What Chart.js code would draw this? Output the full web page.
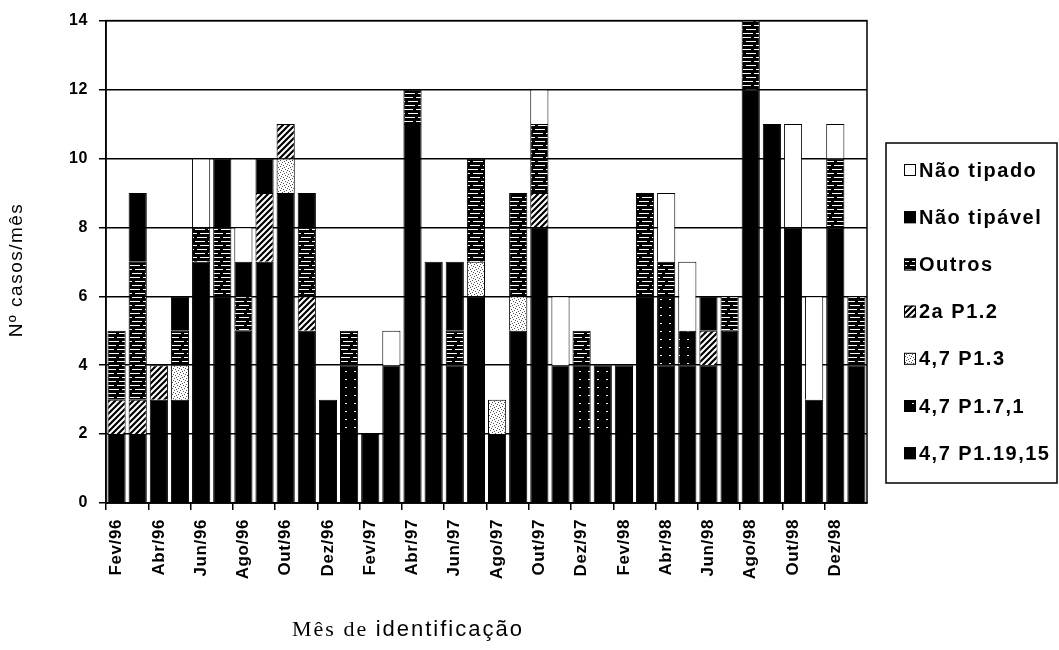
<!DOCTYPE html>
<html>
<head>
<meta charset="utf-8">
<script src="https://cdn.jsdelivr.net/npm/chart.js@4"></script>
<style>
  html, body { margin: 0; padding: 0; background: #fff; }
</style>
</head>
<body>
<canvas id="chart" width="1059" height="650"></canvas>
<script>
// Months (one bar each), only every second one gets a label
const months = [
  'Fev/96', 'Mar/96', 'Abr/96', 'Mai/96', 'Jun/96', 'Jul/96', 'Ago/96', 'Set/96', 'Out/96', 'Nov/96', 'Dez/96', 'Jan/97',
  'Fev/97', 'Mar/97', 'Abr/97', 'Mai/97', 'Jun/97', 'Jul/97', 'Ago/97', 'Set/97', 'Out/97', 'Nov/97', 'Dez/97', 'Jan/98',
  'Fev/98', 'Mar/98', 'Abr/98', 'Mai/98', 'Jun/98', 'Jul/98', 'Ago/98', 'Set/98', 'Out/98', 'Nov/98', 'Dez/98', 'Jan/99'
];

// Cases per month, by serotype (bottom of the stack first)
const p1_19_15  = [2, 2, 3, 3, 7, 6, 5, 7, 9, 5, 3, 2,  2, 4, 11, 7, 4, 6, 2, 5, 8, 4, 2, 2,  4, 6, 4, 4, 4, 5, 12, 11, 8, 3, 8, 4];
const p1_7_1    = [0, 0, 0, 0, 0, 0, 0, 0, 0, 0, 0, 2,  0, 0, 0, 0, 0, 0, 0, 0, 0, 0, 2, 2,  0, 0, 2, 1, 0, 0, 0, 0, 0, 0, 0, 0];
const p1_3      = [0, 0, 0, 1, 0, 0, 0, 0, 1, 0, 0, 0,  0, 0, 0, 0, 0, 1, 1, 1, 0, 0, 0, 0,  0, 0, 0, 0, 0, 0, 0, 0, 0, 0, 0, 0];
const p1_2      = [1, 1, 1, 0, 0, 0, 0, 2, 1, 1, 0, 0,  0, 0, 0, 0, 0, 0, 0, 0, 1, 0, 0, 0,  0, 0, 0, 0, 1, 0, 0, 0, 0, 0, 0, 0];
const outros    = [2, 4, 0, 1, 1, 2, 1, 0, 0, 2, 0, 1,  0, 0, 1, 0, 1, 3, 0, 3, 2, 0, 1, 0,  0, 3, 1, 0, 0, 1, 2, 0, 0, 0, 2, 2];
const naoTipavel = [0, 2, 0, 1, 0, 2, 1, 1, 0, 1, 0, 0,  0, 0, 0, 0, 2, 0, 0, 0, 0, 0, 0, 0,  0, 0, 0, 0, 1, 0, 0, 0, 0, 0, 0, 0];
const naoTipado  = [0, 0, 0, 0, 2, 0, 1, 0, 0, 0, 0, 0,  0, 1, 0, 0, 0, 0, 0, 0, 1, 2, 0, 0,  0, 0, 2, 2, 0, 0, 0, 0, 3, 3, 1, 0];

const seriesNames = ['4,7 P1.19,15', '4,7 P1.7,1', '4,7 P1.3', '2a P1.2', 'Outros', 'Não tipável', 'Não tipado'];
const yTicks = [0, 2, 4, 6, 8, 10, 12, 14];

const SANS = "'Liberation Sans', Arial, sans-serif";
const SERIF = "'Liberation Serif', 'Times New Roman', serif";
const canvas = document.getElementById('chart');
const ctx = canvas.getContext('2d');

// small black & white fill patterns, like the printed original
function makePattern(w, h, paint) {
  const c = document.createElement('canvas');
  c.width = w; c.height = h;
  const g = c.getContext('2d');
  paint(g);
  return ctx.createPattern(c, 'repeat');
}
const hatch = makePattern(6, 6, g => {
  g.fillStyle = '#fff'; g.fillRect(0, 0, 6, 6);
  g.strokeStyle = '#000'; g.lineWidth = 2.2;
  g.beginPath();
  g.moveTo(-1, 7); g.lineTo(7, -1);
  g.moveTo(-4, 4); g.lineTo(4, -4);
  g.moveTo(2, 10); g.lineTo(10, 2);
  g.stroke();
});
// horizontal dashes, staggered so the breaks do not line up
const lines = makePattern(13, 12, g => {
  g.fillStyle = '#000'; g.fillRect(0, 0, 13, 12);
  g.fillStyle = '#fff';
  g.fillRect(0, 1, 10, 1);
  g.fillRect(5, 5, 13, 1); g.fillRect(0, 5, 2, 1);
  g.fillRect(2, 9, 10, 1);
});
const speckle = makePattern(6, 6, g => {
  g.fillStyle = '#fff'; g.fillRect(0, 0, 6, 6);
  g.fillStyle = '#555';
  [[0, 0], [3, 1], [1, 3], [4, 4], [5, 2], [2, 5]].forEach(p => g.fillRect(p[0], p[1], 1, 1));
});
const darkDots = makePattern(9, 8, g => {
  g.fillStyle = '#000'; g.fillRect(0, 0, 9, 8);
  g.fillStyle = '#fff'; g.fillRect(3, 3, 2, 1);
});

const seriesData = [p1_19_15, p1_7_1, p1_3, p1_2, outros, naoTipavel, naoTipado];
const fills = ['#000', darkDots, speckle, hatch, lines, '#000', '#fff'];

const datasets = seriesNames.map((name, i) => ({
  label: name,
  data: seriesData[i].map(v => v || null),
  backgroundColor: fills[i],
  borderColor: '#000',
  borderWidth: 1,
  barPercentage: 0.86,
  categoryPercentage: 1.0
}));

// scanned text looks wide, so space the letters a bit
function spacing(chart) { chart.ctx.letterSpacing = '0.6px'; }

const extras = {
  id: 'extras',
  beforeUpdate: spacing,
  beforeDraw: spacing,
  afterDatasetsDraw(chart) {
    const a = chart.chartArea;
    const c = chart.ctx;
    c.save();
    c.strokeStyle = '#000';
    c.lineWidth = 1.5;
    c.strokeRect(a.left, a.top, a.right - a.left, a.bottom - a.top);
    c.restore();
  },
  afterDraw(chart) {
    const c = chart.ctx;
    c.save();
    c.fillStyle = '#000';

    // y title
    c.save();
    c.letterSpacing = '1.5px';
    c.translate(17, 270);
    c.rotate(-Math.PI / 2);
    c.font = '19px ' + SANS;
    c.textAlign = 'center';
    c.textBaseline = 'middle';
    c.fillText('Nº casos/mês', 0, 0);
    c.restore();

    // x title, serif and sans mixed as in the scan
    c.letterSpacing = '2px';
    c.textBaseline = 'alphabetic';
    c.textAlign = 'left';
    c.font = '22px ' + SERIF;
    const first = 'Mês de ';
    c.fillText(first, 292, 636);
    const w = c.measureText(first).width;
    c.font = '22px ' + SANS;
    c.fillText('identificação', 292 + w, 636);

    // legend box, last series on top
    c.letterSpacing = '1.5px';
    c.lineWidth = 1.5;
    c.strokeStyle = '#000';
    c.strokeRect(886, 143, 171, 340);
    c.font = 'bold 20px ' + SANS;
    c.textBaseline = 'middle';
    const ds = chart.data.datasets;
    for (let k = 0; k < ds.length; k++) {
      const d = ds[ds.length - 1 - k];
      const cy = 170 + k * 47.2;
      c.fillStyle = d.backgroundColor;
      c.fillRect(904, cy - 6, 12, 12);
      c.lineWidth = 1;
      c.strokeRect(904.5, cy - 5.5, 11, 11);
      c.fillStyle = '#000';
      c.fillText(d.label, 919, cy + 1);
    }
    c.restore();
  }
};

Chart.defaults.font.family = SANS;
Chart.defaults.color = '#000';

new Chart(ctx, {
  type: 'bar',
  data: { labels: months, datasets: datasets },
  plugins: [extras],
  options: {
    responsive: false,
    animation: false,
    layout: { padding: { left: 0, right: 192, top: 13, bottom: 0 } },
    plugins: { legend: { display: false }, tooltip: { enabled: false } },
    scales: {
      x: {
        stacked: true,
        offset: true,
        afterFit: s => { s.height = 147; },
        grid: {
          offset: true,
          drawOnChartArea: false,
          tickLength: 7,
          lineWidth: 1.5,
          color: c => (c.index % 2 === 0 ? '#000' : 'rgba(0,0,0,0)')
        },
        border: { color: '#000', width: 1.5 },
        ticks: {
          autoSkip: false,
          minRotation: 90,
          maxRotation: 90,
          padding: 9,
          color: '#000',
          font: { size: 17, weight: 'bold' },
          callback: function (v, i) { return i % 2 === 0 ? this.getLabelForValue(v) : ''; }
        }
      },
      y: {
        stacked: true,
        min: yTicks[0],
        max: yTicks[yTicks.length - 1],
        afterFit: s => { s.width = 106; },
        afterBuildTicks: s => { s.ticks = yTicks.map(v => ({ value: v })); },
        grid: { color: '#000', lineWidth: 1.5, tickLength: 7 },
        border: { color: '#000', width: 1.5 },
        ticks: { padding: 11, color: '#000', font: { size: 16, weight: 'bold' } }
      }
    }
  }
});
</script>
</body>
</html>
